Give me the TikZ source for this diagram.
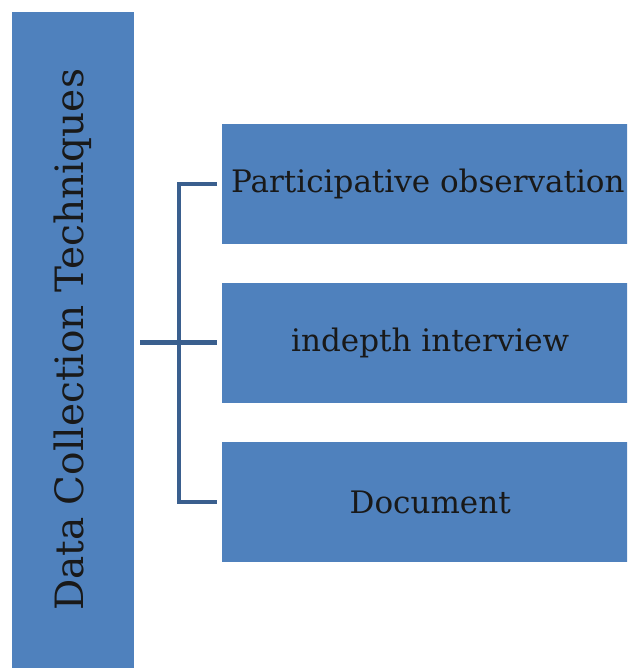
\documentclass[tikz,border=0pt]{standalone}
\usepackage{fontspec}
\setmainfont{DejaVu Serif}
\usepackage{xcolor}
\usepackage{tikz}
\usetikzlibrary{positioning}

\definecolor{boxblue}{RGB}{79,129,189}
\definecolor{linkblue}{RGB}{58,95,142}

\begin{document}
\begin{tikzpicture}[x=1pt, y=1pt,
    techbox/.style={fill=boxblue, draw=none, minimum width=416pt, minimum height=120pt,
        inner sep=0pt, font=\fontsize{31}{38}\selectfont, text=black!90},
    link/.style={draw=linkblue, line width=4.5pt}]
    % 画布范围
    \useasboundingbox (0,0) rectangle (627,668);
    \clip (0,0) rectangle (627,668);

    % 左侧竖条
    \node[fill=boxblue, minimum width=122pt, minimum height=676pt, inner sep=0pt,
        anchor=north west] (bar) at (12,656) {};
    \node[rotate=90, font=\fontsize{39}{46}\selectfont, text=black!90] (title)
        at (73,328) {Data Collection Techniques};

    % 三个方框
    \node[techbox, anchor=north west] (obs) at (222,544) {};
    \node[techbox, below=38pt of obs] (itv) {indepth interview};
    \node[techbox, below=39pt of itv] (doc) {Document};
    \node[anchor=west, font=\fontsize{31}{38}\selectfont, text=black!90, inner sep=0pt]
        (obstext) at ([xshift=9pt]obs.west) {Participative observation};

    % 连接线
    \coordinate (spine) at (179,0);
    \draw[link] ([xshift=-5pt]obs.west) -| (spine |- doc.west) -- ([xshift=-5pt]doc.west);
    \draw[link] ([xshift=6pt]bar.east |- itv.west) -- ([xshift=-5pt]itv.west);
\end{tikzpicture}
\end{document}
